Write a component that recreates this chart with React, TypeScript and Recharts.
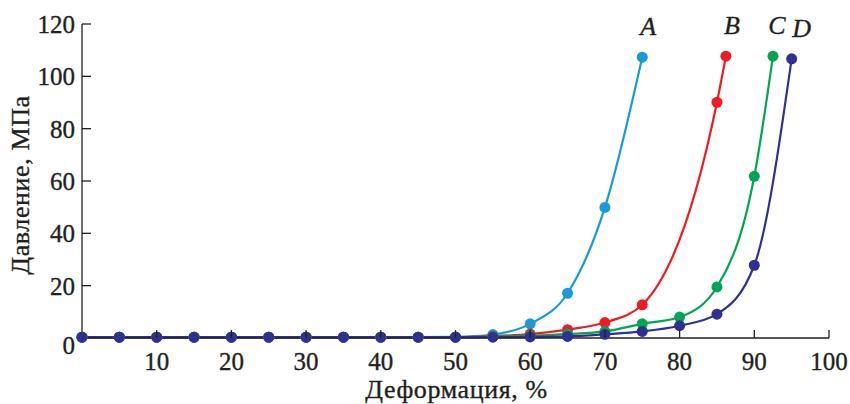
import { LineChart, Line, XAxis, YAxis, LabelList } from "recharts"

const FONT = "Liberation Serif"
const INK = "#231f20"

// деформация, %
const strainA = [0, 5, 10, 15, 20, 25, 30, 35, 40, 45, 50, 55, 60, 65, 70, 75]
const strainB = [0, 5, 10, 15, 20, 25, 30, 35, 40, 45, 50, 55, 60, 65, 70, 75, 85, 86.2]
const strainC = [0, 5, 10, 15, 20, 25, 30, 35, 40, 45, 50, 55, 60, 65, 70, 75, 80, 85, 90, 92.5]
const strainD = [0, 5, 10, 15, 20, 25, 30, 35, 40, 45, 50, 55, 60, 65, 70, 75, 80, 85, 90, 95]

// давление, МПа
const pressureA = [0.3, 0.3, 0.3, 0.3, 0.3, 0.3, 0.3, 0.3, 0.3, 0.3, 0.4, 1.3, 5.4, 17.1, 49.9, 107.3]
const pressureB = [0.3, 0.3, 0.3, 0.3, 0.3, 0.3, 0.3, 0.3, 0.3, 0.3, 0.3, 0.7, 1.5, 3.2, 5.9, 12.7, 90.1, 107.7]
const pressureC = [0.3, 0.3, 0.3, 0.3, 0.3, 0.3, 0.3, 0.3, 0.3, 0.3, 0.3, 0.5, 0.9, 1.5, 2.5, 5.4, 8, 19.5, 61.8, 107.7]
const pressureD = [0.3, 0.3, 0.3, 0.3, 0.3, 0.3, 0.3, 0.3, 0.3, 0.3, 0.3, 0.3, 0.4, 0.6, 1.4, 2.5, 4.7, 9.1, 27.8, 106.7]

const xTicks = [0, 10, 20, 30, 40, 50, 60, 70, 80, 90, 100]
const yTicks = [0, 20, 40, 60, 80, 100, 120]

const rows = (xs: number[], ys: number[]) => xs.map((x, i) => ({ x, y: ys[i] }))

const txt = { fontFamily: FONT, fill: INK, stroke: INK, strokeWidth: 0.35 }

const XTick = (props: any) => {
  const { x, y, payload } = props
  if (payload.value === 0) return <g />
  return (
    <g>
      <line x1={x} y1={y} x2={x} y2={y - 8} stroke={INK} strokeWidth={1.3} />
      <text x={x} y={y + 32} textAnchor="middle" style={{ ...txt, fontSize: 25 }}>
        {payload.value}
      </text>
    </g>
  )
}

const YTick = (props: any) => {
  const { x, y, payload } = props
  return (
    <g>
      {payload.value !== 0 && <line x1={x} y1={y} x2={x + 9} y2={y} stroke={INK} strokeWidth={1.3} />}
      <text x={x - 7} y={payload.value === 0 ? y + 16 : y + 9} textAnchor="end" style={{ ...txt, fontSize: 25 }}>
        {payload.value}
      </text>
    </g>
  )
}

const endLabel = (text: string, last: number, dx: number) => (props: any) => {
  if (props.index !== last) return null
  return (
    <text x={props.x + dx} y={props.y - 22} textAnchor="middle" style={{ ...txt, fontSize: 26, fontStyle: "italic" }}>
      {text}
    </text>
  )
}

const series = [
  { key: "A", color: "#1a9ad6", data: rows(strainA, pressureA), dx: 6 },
  { key: "B", color: "#ed1c24", data: rows(strainB, pressureB), dx: 6 },
  { key: "C", color: "#00a651", data: rows(strainC, pressureC), dx: 4 },
  { key: "D", color: "#2e3192", data: rows(strainD, pressureD), dx: 10 },
]

export default function App() {
  return (
    <div style={{ position: "absolute", left: 0, top: 0, background: "#fff", fontFamily: FONT }}>
      <LineChart width={850} height={404} margin={{ top: 24, right: 21, bottom: 0, left: 0 }}>
        <XAxis
          dataKey="x"
          type="number"
          domain={[0, 100]}
          ticks={xTicks}
          height={66}
          tickSize={0}
          tickMargin={0}
          tick={XTick}
          stroke={INK}
          strokeWidth={1.3}
          label={{
            content: (p: any) => (
              <text x={p.viewBox.x + p.viewBox.width / 2 + 1} y={p.viewBox.y + 60} textAnchor="middle" style={{ ...txt, fontSize: 26, letterSpacing: 0.6 }}>
                Деформация, %
              </text>
            ),
          }}
        />
        <YAxis
          type="number"
          domain={[0, 120]}
          ticks={yTicks}
          width={82}
          tickSize={0}
          tickMargin={0}
          tick={YTick}
          stroke={INK}
          strokeWidth={1.3}
          label={{
            content: (p: any) => {
              const cy = p.viewBox.y + p.viewBox.height / 2 + 4
              return (
                <text x={29} y={cy} transform={`rotate(-90 29 ${cy})`} textAnchor="middle" style={{ ...txt, fontSize: 26, letterSpacing: 0.6 }}>
                  Давление, МПа
                </text>
              )
            },
          }}
        />
        {series.map((s) => (
          <Line
            key={s.key}
            data={s.data}
            dataKey="y"
            type="monotone"
            stroke={s.color}
            strokeWidth={2.2}
            dot={{ r: 5.5, fill: s.color, stroke: s.color, strokeWidth: 0 }}
            isAnimationActive={false}
          >
            <LabelList dataKey="y" content={endLabel(s.key, s.data.length - 1, s.dx)} />
          </Line>
        ))}
      </LineChart>
    </div>
  )
}
